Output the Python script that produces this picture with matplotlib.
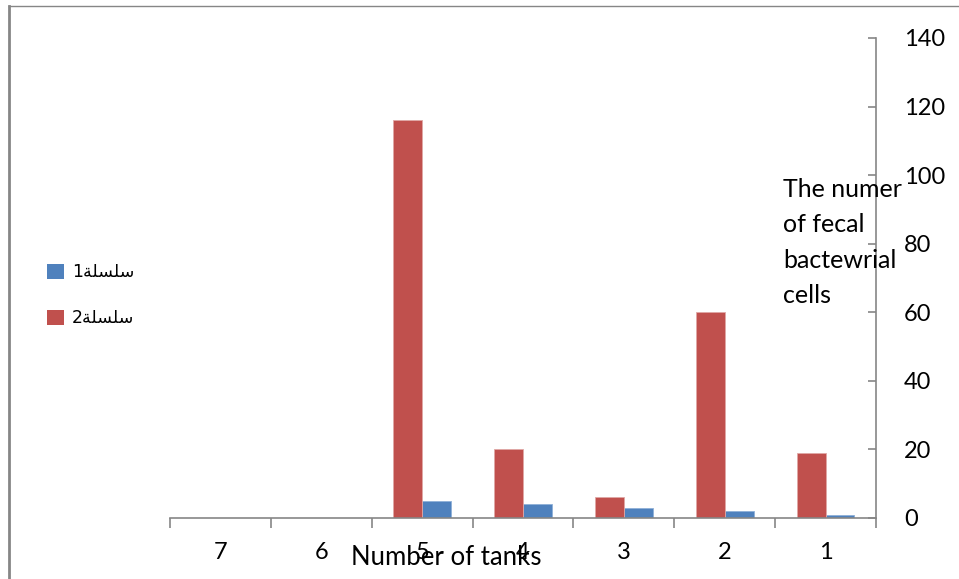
import numpy as np
import matplotlib.pyplot as plt
from matplotlib.lines import Line2D
from matplotlib.patches import Patch

# data
categories = ["1", "2", "3", "4", "5", "6", "7"]
series1 = [1, 2, 3, 4, 5, 0, 0]
series2 = [19, 60, 6, 20, 116, 0, 0]
series_names = ["سلسلة1", "سلسلة2"]
yticks = [0, 20, 40, 60, 80, 100, 120, 140]

blue = "#4F81BD"
red = "#C0504D"
grey = "#868686"


# matplotlib has no arabic shaping, so build the visual form by hand
FORMS = {
    "س": ("\uFEB1", "\uFEB2", "\uFEB3", "\uFEB4"),
    "ل": ("\uFEDD", "\uFEDE", "\uFEDF", "\uFEE0"),
    "ة": ("\uFE93", "\uFE94", None, None),
}
DUAL = {"س", "ل"}


def shape(text):
    word = [c for c in text if c in FORMS]
    rest = "".join(c for c in text if c not in FORMS)
    out = []
    for i, c in enumerate(word):
        prev = i > 0 and word[i - 1] in DUAL
        nxt = i < len(word) - 1 and c in DUAL
        iso, fin, ini, med = FORMS[c]
        if prev and nxt:
            out.append(med)
        elif prev:
            out.append(fin)
        elif nxt:
            out.append(ini)
        else:
            out.append(iso)
    return rest + "".join(reversed(out))


plt.rcParams["font.family"] = ["Lato", "DejaVu Sans"]

fig = plt.figure(figsize=(9.59, 5.79), dpi=100)
ax = fig.add_axes([0.1773, 0.1054, 0.7362, 0.829])

x = np.arange(len(categories))
w = 1 / 3.5
ax.bar(x - w / 2, series1, w, color=blue, edgecolor="#8fb0d8", linewidth=0.6)
ax.bar(x + w / 2, series2, w, color=red, edgecolor="#e0a8a6", linewidth=0.6)

ax.set_xlim(-0.5, len(categories) - 0.5)
ax.invert_xaxis()
ax.set_ylim(0, 140)

ax.set_xticks(np.arange(-0.5, len(categories)), [""] * (len(categories) + 1))
ax.set_xticks(x, categories, minor=True)
ax.tick_params(axis="x", which="major", length=7, width=1.2, color=grey, direction="out")
ax.tick_params(axis="x", which="minor", length=0, pad=17, labelsize=17)

ax.yaxis.tick_right()
ax.set_yticks(yticks)
ax.tick_params(axis="y", length=6, width=1.2, color=grey, direction="in", pad=20, labelsize=17)

for s in ["left", "top"]:
    ax.spines[s].set_visible(False)
for s in ["bottom", "right"]:
    ax.spines[s].set_color(grey)
    ax.spines[s].set_linewidth(1.2)

ax.set_xlabel("Number of tanks", fontsize=18.5)
ax.xaxis.set_label_coords(0.391, -0.083)
ax.xaxis.label.set_va("center")

fig.text(783 / 959, 1 - 178 / 579, "The numer\nof fecal\nbactewrial\ncells",
         fontsize=18, va="top", ha="left", linespacing=1.65)

handles = [Patch(facecolor=blue), Patch(facecolor=red)]
labels = [shape(n) for n in series_names]
leg = fig.legend(handles, labels, loc="upper left", bbox_to_anchor=(0.0396, 0.56),
                 frameon=False, borderpad=0, handlelength=1.0, handleheight=1.0,
                 handletextpad=0.45, labelspacing=1.6,
                 prop={"family": ["DejaVu Sans"], "size": 12.5})

# chart border
fig.add_artist(Line2D([0.009, 0.009], [0, 0.99], color=grey, linewidth=2))
fig.add_artist(Line2D([0.009, 1], [0.99, 0.99], color=grey, linewidth=1))

fig.savefig("out.png", dpi=100)
